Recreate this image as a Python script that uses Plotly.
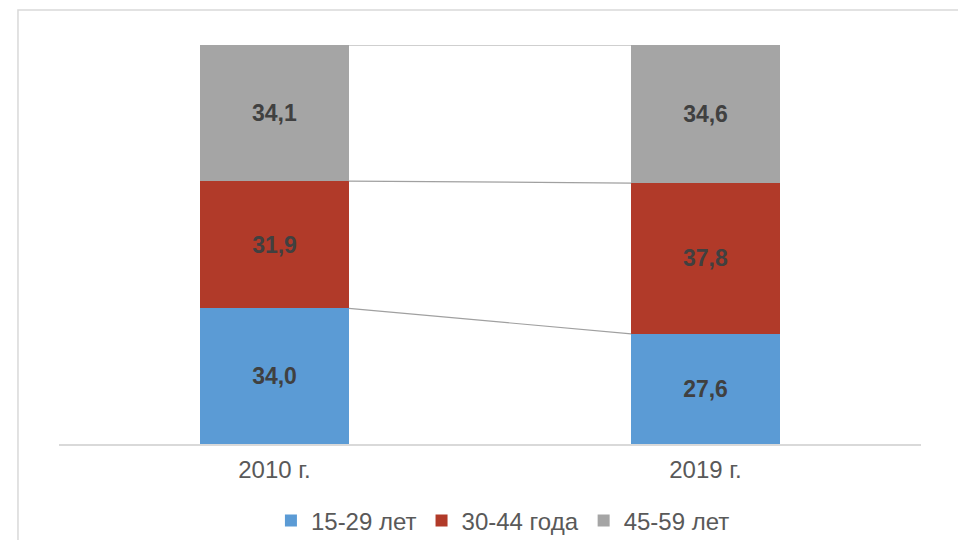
import plotly.graph_objects as go

categories = ["2010 г.", "2019 г."]
series_names = ["15-29 лет", "30-44 года", "45-59 лет"]
v_15_29 = [34.0, 27.6]
v_30_44 = [31.9, 37.8]
v_45_59 = [34.1, 34.6]
colors = ["#5b9bd5", "#b13a29", "#a5a5a5"]

values = [v_15_29, v_30_44, v_45_59]
xpos = list(range(len(categories)))
bar_w = 0.345
FONT = "Arial, Liberation Sans, sans-serif"

fig = go.Figure()
for name, vals, col in zip(series_names, values, colors):
    fig.add_trace(go.Bar(
        x=xpos, y=vals, name=name, width=bar_w,
        marker=dict(color=col, line=dict(width=0)),
        text=[f"{v:.1f}".replace(".", ",") for v in vals],
        textposition="inside", insidetextanchor="middle",
        textfont=dict(family=FONT, size=23, color="#404040", weight="bold"),
        textangle=0,
    ))

# series lines connecting stack boundaries
cum = [0.0, 0.0]
for vals in values:
    cum = [c + v for c, v in zip(cum, vals)]
    fig.add_trace(go.Scatter(
        x=[xpos[0] + bar_w / 2, xpos[1] - bar_w / 2], y=cum,
        mode="lines", line=dict(color="#a0a0a0", width=1.2),
        showlegend=False, hoverinfo="skip",
    ))

fig.update_layout(
    barmode="stack",
    width=958, height=532,
    margin=dict(l=51, r=45, t=37, b=96, autoexpand=False),
    paper_bgcolor="white", plot_bgcolor="white",
    font=dict(family=FONT, color="#595959"),
    showlegend=True,
    legend=dict(orientation="h", x=0.515, xanchor="center", y=-0.193, yanchor="middle",
                font=dict(family=FONT, size=24, color="#595959"),
                traceorder="normal", itemwidth=30),
    xaxis=dict(range=[-0.5, 1.5], tickvals=xpos, ticktext=categories,
               showline=True, linecolor="#d9d9d9", linewidth=1.5,
               showgrid=False, zeroline=False, ticks="", ticklabelstandoff=3,
               automargin=False,
               tickfont=dict(family=FONT, size=24, color="#595959")),
    yaxis=dict(range=[0, 100], visible=False, showgrid=False, zeroline=False, automargin=False),
    shapes=[dict(type="rect", xref="paper", yref="paper",
                 x0=-0.0476, x1=1.2, y0=-0.4, y1=1.0877,
                 line=dict(color="#d9d9d9", width=1.5), fillcolor="rgba(0,0,0,0)",
                 layer="below")],
)

fig.write_html("out.html")
